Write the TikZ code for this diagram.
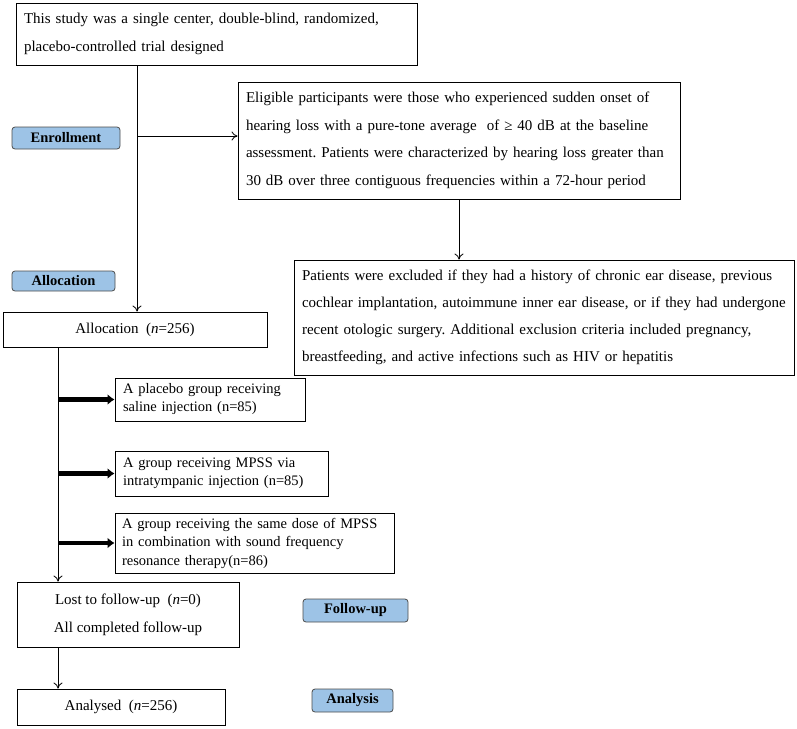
\documentclass[tikz,border=0pt]{standalone}
\usepackage{fontspec}
\setmainfont{Liberation Serif}
\usepackage{xcolor}
\usetikzlibrary{arrows.meta}
\usetikzlibrary{math}

\definecolor{stageblue}{RGB}{157,195,230}
\newcommand{\fsz}[2]{\fontsize{#1}{#2}\selectfont}
\frenchspacing

\tikzset{
  box/.style={draw, line width=0.9pt, inner xsep=8pt, inner ysep=2pt, align=left},
  stage/.style={draw=black!70, fill=stageblue, rounded corners=3pt, line width=0.8pt,
                inner sep=0pt, font=\fsz{14.5}{16}\bfseries},
  flow/.style={-{To[length=6pt,width=9pt]}, line width=0.8pt},
  fat/.style={-{Latex[length=7pt,width=11pt]}, line width=4.5pt}
}

\begin{document}
\begin{tikzpicture}[x=1pt, y=-1pt]
\tikzmath{
\xa=137;
\xb=58;
}
\useasboundingbox (0,0) rectangle (797,728);

% stage labels
\node[stage, minimum width=108pt, minimum height=22pt] (enrol) at (66,138) {Enrollment};
\node[stage, minimum width=103pt, minimum height=20pt] (alloclab) at (63.5,281) {Allocation};
\node[stage, minimum width=105pt, minimum height=23pt] (followlab) at (355.5,610.5) {Follow-up};
\node[stage, minimum width=81pt, minimum height=23pt] (analysislab) at (352.5,700.5) {Analysis};

% boxes
\node[box, text width=385pt, minimum height=62pt, font=\fsz{15}{28}] (design) at (216.5,34)
  {This study was a single center, double-blind, randomized,\\placebo-controlled trial designed};
\node[box, text width=426pt, minimum height=117pt, font=\fsz{15}{27.5}] (eligible) at (459,140.5)
  {Eligible participants were those who experienced sudden onset of\\
   hearing loss with a pure-tone average\ \ of ≥ 40 dB at the baseline\\
   assessment. Patients were characterized by hearing loss greater than\\
   30 dB over three contiguous frequencies within a 72-hour period};
\node[box, text width=484pt, minimum height=115pt, font=\fsz{15}{27}] (exclusion) at (544,317.5)
  {Patients were excluded if they had a history of chronic ear disease, previous\\
   cochlear implantation, autoimmune inner ear disease, or if they had undergone\\
   recent otologic surgery. Additional exclusion criteria included pregnancy,\\
   breastfeeding, and active infections such as HIV or hepatitis};
\node[box, align=center, minimum width=264pt, minimum height=35pt, font=\fsz{15}{18}] (alloc) at (135,329.5)
  {Allocation\ \ (\textit{n}=256)};

\node[box, text width=174pt, minimum height=43pt, font=\fsz{14.5}{18}] (g1) at (210,399.5)
  {A placebo group receiving\\saline injection (n=85)};
\node[box, text width=197pt, minimum height=45pt, font=\fsz{14.5}{18}] (g2) at (221.5,473.5)
  {A group receiving MPSS via\\intratympanic injection (n=85)};
\node[box, text width=265pt, minimum height=60pt, font=\fsz{14.5}{18.5}, inner xsep=7pt] (g3) at (254.5,543)
  {A group receiving the same dose of MPSS\\in combination with sound frequency\\resonance therapy(n=86)};

\node[box, align=center, minimum width=222pt, minimum height=65pt, font=\fsz{15}{28}] (follow) at (128,614.5)
  {Lost to follow-up\ \ (\textit{n}=0)\\All completed follow-up};
\node[box, align=center, minimum width=208pt, minimum height=36pt, font=\fsz{15}{18}] (analysed) at (121,707)
  {Analysed\ \ (\textit{n}=256)};

% connectors
\coordinate (t1) at (\xa,136);
\coordinate (t2) at (\xb,0);
\draw[flow] (design.south -| t1) -- (alloc.north -| t1);
\draw[flow] (t1) -- (t1 -| eligible.west);
\draw[flow] (eligible.south) -- (exclusion.north -| eligible.south);
\draw[flow] (alloc.south -| t2) -- (follow.north -| t2);
\draw[fat] (g1.west -| t2) -- (g1.west);
\draw[fat] (g2.west -| t2) -- (g2.west);
\draw[fat] (g3.west -| t2) -- (g3.west);
\draw[flow] (follow.south -| t2) -- (analysed.north -| t2);

\end{tikzpicture}
\end{document}
